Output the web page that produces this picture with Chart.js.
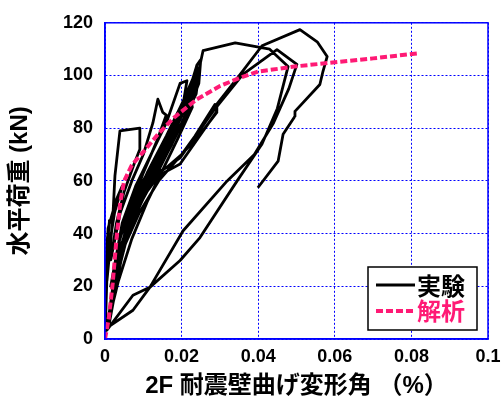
<!DOCTYPE html>
<html>
<head>
<meta charset="utf-8">
<script src="https://cdn.jsdelivr.net/npm/chart.js@4/dist/chart.umd.min.js"></script>
<style>
  body { margin: 0; background: #fff; }
  #wrap { width: 503px; height: 403px; }
</style>
</head>
<body>
<div id="wrap"><canvas id="chart" width="503" height="403"></canvas></div>
<script>
// experiment (hysteresis, drawn in order)
const expX = [
  0, 0.0003, 0.0006, 0.0010, 0.0004, 0.0001, 0.0005, 0.0012, 0.0006, 0.0002,
  0.0008, 0.0018, 0.0030, 0.0045, 0.0025, 0.0012, 0.0005, 0.0020, 0.0026, 0.0039,
  0.0091, 0.0091, 0.0075, 0.0050, 0.0030, 0.0015, 0.0040, 0.0070, 0.0100, 0.0125,
  0.0138, 0.0151, 0.0160, 0.0135, 0.0100, 0.0065, 0.0035, 0.0015, 0.0045, 0.0080,
  0.0120, 0.0160, 0.0196, 0.0214, 0.0205, 0.0170, 0.0130, 0.0090, 0.0050, 0.0020,
  0.0060, 0.0100, 0.0150, 0.0190, 0.0225, 0.0240, 0.0250, 0.0245, 0.0215, 0.0175,
  0.0135, 0.0095, 0.0060, 0.0025,
  0.0040, 0.0080, 0.0130, 0.0180, 0.0220, 0.0235, 0.0232, 0.0195, 0.0150, 0.0105,
  0.0065, 0.0035, 0.0075, 0.0125, 0.0175, 0.0215, 0.0238, 0.0240, 0.0205, 0.0160,
  0.0115, 0.0070, 0.0030, 0.0065, 0.0110, 0.0160, 0.0200, 0.0230, 0.0225, 0.0185,
  0.0140, 0.0095, 0.0055,
  0.0010, 0.0040, 0.0070, 0.0110, 0.0150, 0.0190, 0.0222, 0.0228, 0.0190, 0.0150,
  0.0110, 0.0070, 0.0035, 0.0008,
  0.0030, 0.0060, 0.0100, 0.0145, 0.0185, 0.0218, 0.0244, 0.0238, 0.0200, 0.0155,
  0.0110, 0.0075,
  0.0070, 0.0120, 0.0160, 0.0200, 0.0235, 0.0287,
  0.0292, 0.0250, 0.0200, 0.0140, 0.0090, 0.0050, 0.0020,
  0.0060, 0.0110, 0.0170, 0.0215, 0.0242, 0.0256, 0.0340, 0.0430, 0.0478, 0.0450,
  0.0410, 0.0345, 0.0248, 0.0196, 0.0117, 0.0073, 0.0005,
  0.0030, 0.0070, 0.0130, 0.0196, 0.0282, 0.0360, 0.0449, 0.0501, 0.0480, 0.0440,
  0.0390, 0.0319, 0.0204, 0.0117, 0.0073, 0.0005,
  0.0035, 0.0080, 0.0140, 0.0196, 0.0292, 0.0292, 0.0345, 0.0410, 0.0509, 0.0554,
  0.0580, 0.0569, 0.0561, 0.0496, 0.0496, 0.0465, 0.0452, 0.0399
];
const expY = [
  0, 14, 28, 40, 30, 20, 34, 45, 38, 24,
  42, 47, 53, 58, 48, 36, 22, 45, 62, 79,
  80, 72, 66, 56, 44, 30, 48, 60, 70, 82,
  91, 86, 85, 75, 63, 50, 36, 20, 44, 58,
  70, 82, 97, 98, 90, 78, 66, 53, 38, 18,
  46, 60, 74, 86, 96, 104, 106, 97, 86, 74,
  63, 52, 40, 20,
  40, 55, 68, 82, 94, 100, 92, 80, 68, 56,
  44, 32, 50, 65, 80, 92, 103, 95, 83, 70,
  58, 44, 25, 48, 63, 77, 89, 99, 90, 77,
  64, 52, 40,
  5, 30, 45, 58, 70, 82, 93, 88, 76, 64,
  52, 38, 22, 6,
  28, 42, 56, 68, 80, 90, 100, 93, 82, 70,
  57, 47,
  48, 62, 65, 70, 77, 89,
  86, 78, 70, 60, 48, 35, 15,
  44, 60, 76, 90, 100, 109.4, 112.4, 110, 103.4, 87.5,
  74, 60, 38.5, 29.8, 19.6, 16.6, 3.4,
  30, 48, 62, 68.7, 86.4, 100.4, 109.8, 104.2, 95, 82,
  70, 60, 41.1, 19.6, 10.9, 4.2,
  32, 50, 62, 66.4, 86.4, 89.1, 98.9, 111.3, 117.4, 112.8,
  107.2, 101.5, 96.6, 86.4, 84.5, 77.7, 67.5, 57.4
];

// analysis
const anaX = [0, 0.001, 0.002, 0.003, 0.004, 0.005, 0.007, 0.010, 0.014, 0.018,
  0.024, 0.030, 0.035, 0.040, 0.050, 0.060, 0.070, 0.0822];
const anaY = [0, 8, 21, 38, 52, 60, 66, 71, 78, 84,
  91, 96, 99, 101.5, 103.5, 105, 106.5, 108.5];

const xTickLabels = ["0", "0.02", "0.04", "0.06", "0.08", "0.1"];
const seriesNames = ["実験", "解析"];

const BLUE = "#0000ff";
const PINK = "#ff1a75";
const FONT = "'Liberation Sans', Arial, 'Noto Sans CJK JP', sans-serif";

const toPoints = (xs, ys) => xs.map((x, i) => ({ x: x, y: ys[i] }));

// solid frame around the plot area
const framePlugin = {
  id: "frame",
  afterDraw(chart) {
    const { ctx, chartArea: a } = chart;
    ctx.save();
    ctx.strokeStyle = BLUE;
    ctx.lineWidth = 1.5;
    ctx.strokeRect(a.left, a.top, a.right - a.left, a.bottom - a.top);
    ctx.restore();
  },
};

// legend box in the lower right
const legendPlugin = {
  id: "boxLegend",
  afterDraw(chart) {
    const ctx = chart.ctx;
    ctx.save();
    ctx.fillStyle = "#fff";
    ctx.fillRect(368, 267, 109, 63);
    ctx.strokeStyle = "#000";
    ctx.lineWidth = 1.5;
    ctx.strokeRect(368, 267, 109, 63);

    ctx.lineWidth = 2.8;
    ctx.beginPath();
    ctx.moveTo(376, 285);
    ctx.lineTo(415, 285);
    ctx.stroke();

    ctx.strokeStyle = PINK;
    ctx.lineWidth = 4;
    ctx.setLineDash([7, 3]);
    ctx.beginPath();
    ctx.moveTo(376, 311);
    ctx.lineTo(415, 311);
    ctx.stroke();
    ctx.setLineDash([]);

    ctx.font = "bold 24px " + FONT;
    ctx.textBaseline = "middle";
    ctx.textAlign = "left";
    ctx.fillStyle = "#000";
    ctx.fillText(seriesNames[0], 417, 288);
    ctx.fillStyle = PINK;
    ctx.fillText(seriesNames[1], 417, 313);
    ctx.restore();
  },
};

const config = {
  type: "scatter",
  data: {
    datasets: [
      {
        label: seriesNames[1],
        data: toPoints(anaX, anaY),
        showLine: true,
        borderColor: PINK,
        borderWidth: 4,
        borderDash: [7, 3],
        pointRadius: 0,
        order: 0,
      },
      {
        label: seriesNames[0],
        data: toPoints(expX, expY),
        showLine: true,
        borderColor: "#000",
        borderWidth: 2.8,
        borderJoinStyle: "round",
        pointRadius: 0,
        order: 1,
      },
    ],
  },
  options: {
    responsive: false,
    animation: false,
    layout: { padding: { top: 21, right: 15, bottom: 0, left: 0 } },
    plugins: { legend: { display: false }, tooltip: { enabled: false } },
    scales: {
      x: {
        type: "linear",
        min: 0,
        max: 0.1,
        ticks: {
          stepSize: 0.02,
          padding: 7,
          color: "#000",
          font: { family: FONT, size: 18, weight: "bold" },
          callback: (v, i) => xTickLabels[i],
        },
        grid: { color: BLUE, lineWidth: 1, drawTicks: false },
        border: { color: BLUE, width: 1.5, dash: [2, 2] },
        title: {
          display: true,
          text: "2F 耐震壁曲げ変形角 （%）",
          color: "#000",
          font: { family: FONT, size: 24, weight: "bold" },
          padding: { top: 0, bottom: 2 },
        },
        afterFit: (scale) => {
          scale.height = 64;
          scale.paddingLeft = 0;
          scale.paddingRight = 0;
        },
      },
      y: {
        min: 0,
        max: 120,
        ticks: {
          stepSize: 20,
          padding: 12,
          color: "#000",
          font: { family: FONT, size: 18, weight: "bold" },
        },
        grid: { color: BLUE, lineWidth: 1, drawTicks: false },
        border: { color: BLUE, width: 1.5, dash: [2, 2] },
        title: {
          display: true,
          text: "水平荷重 (kN)",
          color: "#000",
          font: { family: FONT, size: 24, weight: "bold" },
          padding: { top: 6, bottom: 0 },
        },
        afterFit: (scale) => { scale.width = 105; },
      },
    },
  },
  plugins: [framePlugin, legendPlugin],
};

new Chart(document.getElementById("chart"), config);
</script>
</body>
</html>
